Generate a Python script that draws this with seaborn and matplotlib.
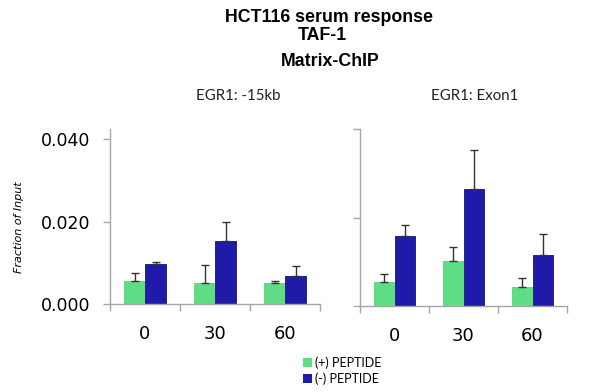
import matplotlib
matplotlib.use("Agg")
import matplotlib.pyplot as plt
import seaborn as sns
import pandas as pd
from matplotlib.patches import Patch
from matplotlib.container import BarContainer

# ---- data ----
times = ["0", "30", "60"]
groups = ["(+) PEPTIDE", "(-) PEPTIDE"]
colors = ["#5EDD85", "#1F1AA8"]

left_plus = [0.0055, 0.0051, 0.0051]
left_plus_err = [0.0020, 0.0043, 0.0006]
left_minus = [0.0096, 0.0154, 0.0068]
left_minus_err = [0.0006, 0.0044, 0.0024]

right_plus = [0.0054, 0.0102, 0.0043]
right_plus_err = [0.0018, 0.0032, 0.0020]
right_minus = [0.0159, 0.0265, 0.0116]
right_minus_err = [0.0024, 0.0087, 0.0046]

yticks = [0.0, 0.02, 0.04]
ytick_labels = ["0.000", "0.020", "0.040"]

sns.set_style("white")
plt.rcParams["font.family"] = ["DejaVu Sans"]
plt.rcParams["text.color"] = "black"
plt.rcParams["xtick.labelcolor"] = "black"
plt.rcParams["ytick.labelcolor"] = "black"

W, H = 600, 392
fig = plt.figure(figsize=(6, 3.92), dpi=100)

def px_axes(x0, x1, ytop, ybot):
    return fig.add_axes([x0 / W, (H - ybot) / H, (x1 - x0) / W, (ybot - ytop) / H])

ax1 = px_axes(110, 320, 129, 304)
ax2 = px_axes(360, 567, 129, 306)

panels = [
    (ax1, left_plus, left_plus_err, left_minus, left_minus_err, 0.04 * (304 - 129) / (304 - 139.3), True),
    (ax2, right_plus, right_plus_err, right_minus, right_minus_err, 0.04, False),
]

gray = "#a6a6a6"
for ax, p, pe, m, me, ytop, show_labels in panels:
    df = pd.DataFrame({
        "time": times * 2,
        "group": [groups[0]] * 3 + [groups[1]] * 3,
        "value": p + m,
    })
    sns.barplot(data=df, x="time", y="value", hue="group", order=times,
                hue_order=groups, palette=colors, width=0.6, errorbar=None,
                saturation=1, ax=ax, legend=False, linewidth=0)
    errs = [pe, me]
    bar_conts = [c for c in ax.containers if isinstance(c, BarContainer)]
    for ci, cont in enumerate(bar_conts):
        for bi, bar in enumerate(list(cont)):
            if ci == 1:
                bar.set_edgecolor("#16137c")
                bar.set_linewidth(0.6)
            xc = bar.get_x() + bar.get_width() / 2
            ax.errorbar(xc, bar.get_height(), yerr=[[0], [errs[ci][bi]]],
                        fmt="none", ecolor="#333333", elinewidth=1.0,
                        capsize=3, capthick=1.0, zorder=1)
    ax.set_xlim(-0.5, 2.5)
    ax.set_ylim(0, ytop)
    ax.set_xlabel("")
    ax.set_ylabel("")
    for s in ["top", "right"]:
        ax.spines[s].set_visible(False)
    for s in ["left", "bottom"]:
        ax.spines[s].set_color(gray)
        ax.spines[s].set_linewidth(1.0)
    ax.set_xticks([-0.5, 0.5, 1.5, 2.5])
    ax.set_xticklabels([])
    ax.set_xticks([0, 1, 2], minor=True)
    ax.set_xticklabels(times, minor=True, fontsize=13)
    ax.tick_params(axis="x", which="major", direction="out", length=5, color=gray, width=1, bottom=True)
    ax.tick_params(axis="x", which="minor", length=0, pad=15)
    ax.set_yticks(yticks)
    if show_labels:
        ax.set_yticklabels(ytick_labels, fontsize=12.5)
    else:
        ax.set_yticklabels([])
    ax.tick_params(axis="y", direction="out", length=5, color=gray, width=1, pad=9, left=True)
    ax.set_facecolor("white")

# titles
tkw = dict(ha="center", va="center", fontsize=12.8, fontweight="bold",
           family="Liberation Sans", color="black")
fig.text(329 / W, 1 - 18 / H, "HCT116 serum response", **tkw)
fig.text(322 / W, 1 - 36 / H, "TAF-1", **tkw)
fig.text(330 / W, 1 - 62 / H, "Matrix-ChIP", **tkw)
fig.text(238 / W, 1 - 96 / H, "EGR1: -15kb", ha="center", va="center",
         fontsize=10.8, family="Lato", color="#222222")
fig.text(475 / W, 1 - 96 / H, "EGR1: Exon1", ha="center", va="center",
         fontsize=10.8, family="Lato", color="#222222")
fig.text(19 / W, 1 - 227 / H, "Fraction of Input", ha="center", va="center",
         rotation=90, fontsize=8, style="italic", family="Liberation Sans Narrow")

handles = [Patch(facecolor=colors[0], edgecolor="none"),
           Patch(facecolor=colors[1], edgecolor="none")]
fig.legend(handles, groups, loc="upper left", bbox_to_anchor=(303 / W, 1 - 356 / H),
           frameon=False, handlelength=0.75, handleheight=0.75,
           handletextpad=0.2, labelspacing=0.3, borderpad=0, borderaxespad=0,
           prop={"family": "Lato", "size": 9})

fig.savefig("out.png", dpi=100, facecolor="white")
